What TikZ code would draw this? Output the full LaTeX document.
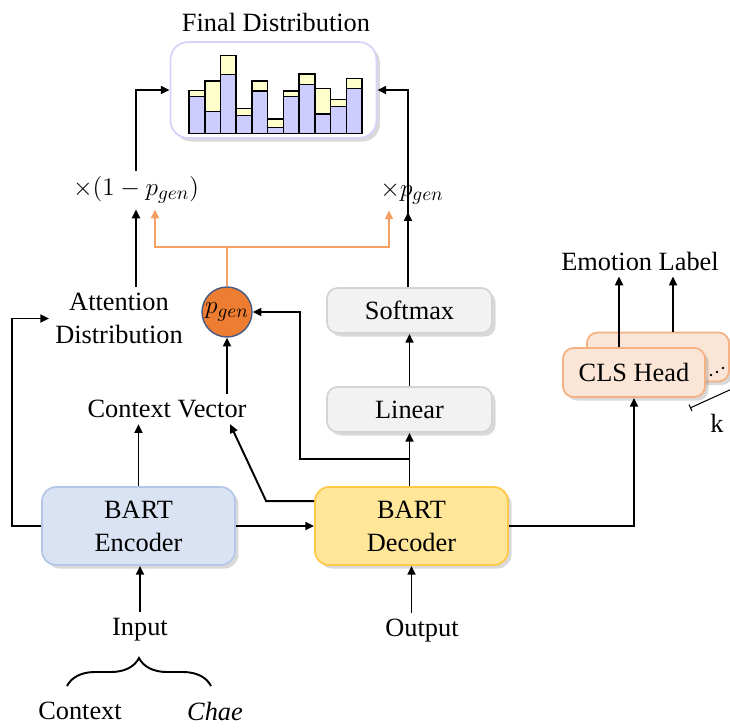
\documentclass[tikz,border=0pt]{standalone}
\usepackage{fontspec}
\setmainfont{Liberation Serif}
\usetikzlibrary{arrows.meta, positioning, calc, shadows, decorations.pathreplacing}
\definecolor{EncFill}{RGB}{218, 227, 243}
\definecolor{EncDraw}{RGB}{180, 199, 231}
\definecolor{DecFill}{RGB}{255, 230, 153}
\definecolor{DecDraw}{RGB}{255, 200, 70}
\definecolor{GrayFill}{RGB}{242, 242, 242}
\definecolor{GrayDraw}{RGB}{212, 212, 212}
\definecolor{ClsFill}{RGB}{251, 229, 214}
\definecolor{ClsDraw}{RGB}{244, 177, 131}
\definecolor{PgenFill}{RGB}{237, 125, 49}
\definecolor{PgenDraw}{RGB}{70, 90, 130}
\definecolor{DistDraw}{RGB}{212, 212, 250}
\definecolor{BarBlue}{RGB}{204, 204, 255}
\definecolor{BarYellow}{RGB}{255, 255, 204}
\definecolor{GateOrange}{RGB}{244, 160, 100}

\begin{document}
\begin{tikzpicture}[
    x=0.02cm, y=-0.02cm,
    every node/.style={font=\fontsize{15}{18.7}\selectfont, align=center},
    shade/.style={drop shadow={opacity=0.25, fill=black!60, shadow xshift=2pt, shadow yshift=-2pt}},
    bart/.style={rectangle, rounded corners=8pt, line width=1pt, minimum width=3.86cm, minimum height=1.56cm, shade},
    layer/.style={rectangle, draw=GrayDraw, fill=GrayFill, rounded corners=6pt, line width=1pt, minimum width=3.3cm, minimum height=0.9cm, shade},
    head/.style={rectangle, draw=ClsDraw, fill=ClsFill, rounded corners=6pt, line width=1pt, minimum width=2.84cm, minimum height=0.98cm, shade},
    arrow/.style={-{Triangle[length=5pt, width=4.5pt]}, draw=black, line width=1.1pt},
    gate/.style={-{Triangle[length=5pt, width=4.5pt]}, draw=GateOrange, line width=1.2pt}
  ]
    \useasboundingbox (0,0) rectangle (730,727);

    % Final distribution
    \node (title) at (276,22) {Final Distribution};
    \node[rectangle, draw=DistDraw, fill=white, rounded corners=10pt, line width=1pt, minimum width=4.12cm, minimum height=1.92cm, shade] (dist) at (273.5,90) {};
    \foreach \yt/\bt [count=\i] in {90.7/96.7, 81/111.7, 55.7/74.3, 108.3/115.7, 81/91, 119/127.3, 91/96.7, 74/84.3, 88.3/114, 99.3/106.7, 78.7/88.3} {
      \draw[fill=BarBlue, line width=0.9pt] ({189+(\i-1)*15.73},133.3) rectangle ({189+\i*15.73},\bt);
      \draw[fill=BarYellow, line width=0.9pt] ({189+(\i-1)*15.73},\bt) rectangle ({189+\i*15.73},\yt);
    }

    % Weights
    \node (mulc) at (136,190) {$\times(1-p_{gen})$};
    \node (mulg) at (412,193) {$\times p_{gen}$};

    % Pointer side
    \node (att) at (119,318.5) {Attention\\Distribution};
    \node[circle, draw=PgenDraw, fill=PgenFill, line width=0.8pt, minimum size=1cm, inner sep=0pt] (pg) at (227,312) {$p_{gen}$};
    \node (ctx) at (167,409) {Context Vector};

    % Generator side
    \node[layer] (soft) at (409.5,310.5) {Softmax};
    \node[layer] (lin) at (409.5,409.5) {Linear};

    % BART
    \node[bart, draw=EncDraw, fill=EncFill] (enc) at (138.5,526) {BART\\Encoder};
    \node[bart, draw=DecDraw, fill=DecFill] (dec) at (411.5,526) {BART\\Decoder};
    \node (inp) at (140,630) {Input};
    \node (out) at (422,631) {Output};
    \node (ctxin) at (80,711) {Context};
    \node (chae) at (215,711) {\textit{Chae}};

    % Classification heads
    \node[head] (clsk) at (658,357) {};
    \node[head] (cls) at (634,372.5) {CLS Head};
    \foreach \dx/\dy in {711/375, 717/372, 723/368}
      \fill (\dx,\dy) circle (0.8pt);
    \node (emo) at (640,261) {Emotion Label};
    \node (k) at (717,423) {k};

    % Connections
    \draw[arrow] (mulc.north) |- (dist.west);
    \draw[arrow] (soft.north -| mulg.south) ++(-4,0) |- (dist.east);
    \draw[arrow] (mulc.south |- att.north) -- (mulc.south);
    \draw[arrow] (soft.north) ++(-1.5,0) -- ++(0,-75);
    \coordinate (gl) at (155,247);
    \coordinate (gr) at (389,247);
    \draw[gate] (pg.north) |- (gl) -- (gl |- mulc.south);
    \draw[gate] (pg.north) |- (gr) -- (gr |- mulg.south);
    \draw[arrow] (enc.west) -- ++(-29,0) |- (att.west);
    \draw[arrow] (enc.north) -- (enc.north |- ctx.south);
    \draw[arrow] (pg.south |- ctx.north) -- (pg.south);
    \draw[arrow] ([yshift=-0.3cm]dec.north west) -- ++(-48,0) -- ([xshift=-0.45cm]ctx.south east);
    \draw[arrow] (dec.north -| lin.south) -- (lin.south);
    \coordinate (br) at (409.5,459);
    \draw[arrow] (br) -- ++(-109.5,0) |- (pg.east);
    \draw[arrow] (lin) -- (soft);
    \draw[arrow] (enc) -- (dec);
    \draw[arrow] (dec.east) -| (cls.south);
    \coordinate (e1) at ([xshift=-0.3cm]cls.north);
    \coordinate (e2) at ([xshift=0.3cm]clsk.north);
    \draw[arrow] (e1) -- (e1 |- emo.south);
    \draw[arrow] (e2) -- (e2 |- emo.south);
    \draw[arrow] (inp.north) -- (inp.north |- enc.south);
    \draw[arrow] (dec.south |- out.north) -- (dec.south);
    \draw[line width=1.1pt, decorate, decoration={brace, amplitude=0.56cm}] (67,686) -- (211,686);
    \draw[line width=0.6pt, {Bar[width=4pt]}-{Bar[width=4pt]}] (690,408) -- (734,388);
  \end{tikzpicture}
\end{document}
